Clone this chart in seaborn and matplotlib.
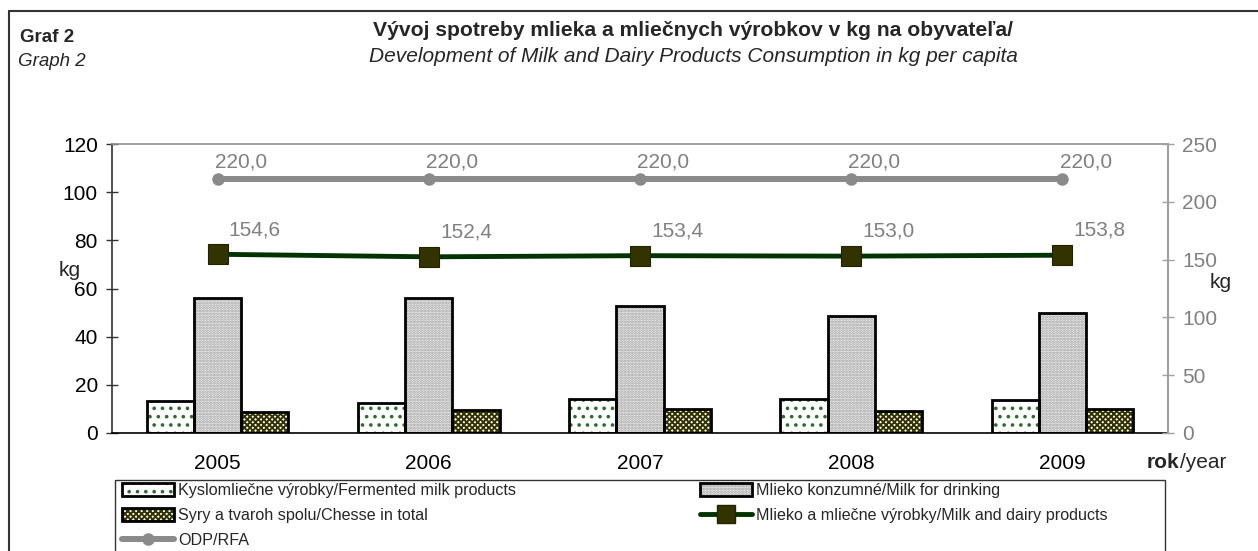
"""
Graf 2 - spotreba mlieka a mliečnych výrobkov na obyvateľa (2005-2009).
"""

import matplotlib
matplotlib.use("Agg")
import matplotlib.pyplot as plt
import matplotlib.patches as mpatches
from matplotlib.lines import Line2D
from matplotlib.legend_handler import HandlerTuple
import seaborn as sns
import numpy as np
import pandas as pd

# --- data -----------------------------------------------------------------
roky = ["2005", "2006", "2007", "2008", "2009"]
kyslomliecne = [13.2, 12.5, 14.1, 14.1, 13.7]
mlieko_konzumne = [55.9, 56.2, 52.7, 48.4, 49.8]
syry_tvaroh = [8.9, 9.5, 10.0, 9.3, 10.0]
mlieko_spolu = [154.6, 152.4, 153.4, 153.0, 153.8]
odp_rfa = [220.0, 220.0, 220.0, 220.0, 220.0]

lbl_kysl = "Kyslomliečne výrobky/Fermented milk products"
lbl_mlieko = "Mlieko konzumné/Milk for drinking"
lbl_syry = "Syry a tvaroh spolu/Chesse in total"
lbl_spolu = "Mlieko a mliečne výrobky/Milk and dairy products"
lbl_odp = "ODP/RFA"

df = pd.DataFrame({
    "rok": roky * 3,
    "kg": kyslomliecne + mlieko_konzumne + syry_tvaroh,
    "serie": [lbl_kysl] * 5 + [lbl_mlieko] * 5 + [lbl_syry] * 5,
})

FARBY = {
    "zelena_bod": "#2f6b2f",
    "siva_bod":   "#9a9a9a",
    "olivova":    "#333300",
    "ciara_zel":  "#003300",
    "siva_ciara": "#8a8a8a",
    "siva_text":  "#808080",
}
# (plocha, šrafovanie, farba šrafovania)
VZORY = {
    lbl_kysl:   ("white", "..", FARBY["zelena_bod"]),
    lbl_mlieko: ("#f6f6f6", "......", FARBY["siva_bod"]),
    lbl_syry:   ("white", "xxxxxx", FARBY["olivova"]),
}

sns.set_theme(style="white")
plt.rcParams["font.family"] = ["Liberation Sans", "DejaVu Sans"]
plt.rcParams["hatch.linewidth"] = 1.4

FS = 15

W, H = 1258, 551
fig = plt.figure(figsize=(W / 100, H / 100), dpi=100)
ax = fig.add_axes([112 / W, 1 - 433 / H, (1168 - 112) / W, (433 - 144) / H])

sns.barplot(data=df, x="rok", y="kg", hue="serie",
            hue_order=[lbl_kysl, lbl_mlieko, lbl_syry],
            palette=["white"] * 3, saturation=1, width=0.67,
            legend=False, ax=ax)

for cont, serie in zip(ax.containers, [lbl_kysl, lbl_mlieko, lbl_syry]):
    face, hatch, hcol = VZORY[serie]
    for bar in cont:
        bar.set_facecolor(face)
        bar.set_hatch(hatch)
        bar.set_edgecolor(hcol)
        bar.set_linewidth(0)
        ax.add_patch(mpatches.Rectangle(bar.get_xy(), bar.get_width(), bar.get_height(),
                                        fill=False, edgecolor="black", linewidth=2, zorder=3))

ax.set_xlim(-0.5, 4.5)
ax.set_ylim(0, 120)
ax.set_yticks(np.arange(0, 121, 20))
ax.set_xlabel("")
ax.set_ylabel("")
ax.set_xticks(np.arange(-0.5, 5, 1), minor=True)
ax.tick_params(axis="x", which="major", length=0, pad=15, labelsize=FS, labelcolor="black")
ax.tick_params(axis="x", which="minor", direction="inout", length=10, width=1, color="#333333")
ax.tick_params(axis="y", direction="inout", length=8.5, width=1, pad=6, labelsize=FS,
               color="#333333", labelcolor="black")
ax.spines["left"].set_color("#333333")
ax.spines["bottom"].set_color("black")
ax.spines["top"].set_visible(True)
ax.spines["top"].set_color("#909090")
ax.spines["right"].set_visible(False)
for s in ax.spines.values():
    s.set_linewidth(1.2)

# --- pravá os: čiary -----------------------------------------------------
ax2 = ax.twinx()
pozicie = np.arange(len(roky))
sns.lineplot(x=pozicie, y=odp_rfa, ax=ax2, color=FARBY["siva_ciara"], linewidth=4.3,
             marker="o", markersize=9, markeredgewidth=0, markerfacecolor=FARBY["siva_ciara"])
sns.lineplot(x=pozicie, y=mlieko_spolu, ax=ax2, color=FARBY["ciara_zel"], linewidth=3.5,
             marker="s", markersize=14, markeredgewidth=0.8, markeredgecolor="#222200",
             markerfacecolor=FARBY["olivova"])
ax2.set_ylim(0, 250)
ax2.set_yticks(np.arange(0, 251, 50))
ax2.set_xlim(-0.5, 4.5)
ax2.set_ylabel("")
ax2.tick_params(axis="y", direction="inout", length=8.5, width=1, pad=6, labelsize=FS,
                color="#a0a0a0", labelcolor=FARBY["siva_text"])
for side in ["left", "top", "bottom"]:
    ax2.spines[side].set_visible(False)
ax2.spines["right"].set_visible(True)
ax2.spines["right"].set_color("#a0a0a0")
ax2.spines["right"].set_linewidth(1.5)

for i, v in enumerate(odp_rfa):
    ax2.annotate(f"{v:.1f}".replace(".", ","), (i, v), xytext=(-2, 5),
                 textcoords="offset points", ha="left", va="bottom",
                 fontsize=FS, color=FARBY["siva_text"])
for i, v in enumerate(mlieko_spolu):
    ax2.annotate(f"{v:.1f}".replace(".", ","), (i, v), xytext=(8, 11),
                 textcoords="offset points", ha="left", va="bottom",
                 fontsize=FS, color=FARBY["siva_text"])

# --- texty ----------------------------------------------------------------
fig.text(693 / W, 1 - 30 / H, "Vývoj spotreby mlieka a mliečnych výrobkov v kg na obyvateľa/",
         ha="center", va="center", fontsize=15.2, fontweight="bold")
fig.text(693 / W, 1 - 57 / H, "Development of Milk and Dairy Products Consumption in kg per capita",
         ha="center", va="center", fontsize=15, style="italic")
fig.text(20 / W, 1 - 37 / H, "Graf 2", ha="left", va="center", fontsize=13.5, fontweight="bold")
fig.text(18 / W, 1 - 62 / H, "Graph 2", ha="left", va="center", fontsize=13.5, style="italic")
fig.text(70 / W, 1 - 270 / H, "kg", ha="center", va="center", fontsize=FS)
fig.text(1221 / W, 1 - 283 / H, "kg", ha="center", va="center", fontsize=FS)
t_rok = fig.text(1147 / W, 1 - 463 / H, "rok", ha="left", va="center",
                 fontsize=FS, fontweight="bold")
ax.annotate("/year", xy=(1, 0), xycoords=t_rok, ha="left", va="bottom", fontsize=FS)

# rám obrázka (pravá a spodná strana sú orezané)
fig.add_artist(Line2D([9 / W, 1], [1 - 11 / H, 1 - 11 / H], color="#333333", lw=1.5,
                      transform=fig.transFigure))
fig.add_artist(Line2D([9 / W, 9 / W], [0, 1 - 11 / H], color="#333333", lw=1.5,
                      transform=fig.transFigure))

# --- legenda --------------------------------------------------------------
def _plocha(serie):
    face, hatch, hcol = VZORY[serie]
    return (mpatches.Patch(facecolor=face, hatch=hatch, edgecolor=hcol, linewidth=0),
            mpatches.Patch(fill=False, edgecolor="black", linewidth=2))

handles = [
    _plocha(lbl_kysl),
    _plocha(lbl_syry),
    Line2D([], [], color=FARBY["siva_ciara"], lw=4.3, marker="o", markersize=9, markeredgewidth=0),
    _plocha(lbl_mlieko),
    Line2D([], [], color=FARBY["ciara_zel"], lw=3.5, marker="s", markersize=13,
           markerfacecolor=FARBY["olivova"], markeredgecolor="#222200"),
]
labels = [lbl_kysl, lbl_syry, lbl_odp, lbl_mlieko, lbl_spolu]

# rám legendy pokračuje až za spodný okraj obrázka
fig.add_artist(mpatches.Rectangle((115 / W, -0.05), (1165 - 115) / W, 1 - 480 / H + 0.05,
                                  transform=fig.transFigure, fill=False,
                                  edgecolor="#333333", linewidth=1.0))
leg = fig.legend(handles, labels, ncol=2, loc="upper left",
                 bbox_to_anchor=(122 / W, 1 - 483 / H),
                 handler_map={tuple: HandlerTuple(ndivide=1, pad=0)},
                 fontsize=11.6, frameon=False, borderpad=0, labelspacing=0.62,
                 handlelength=3.2, handleheight=0.8, handletextpad=0.3,
                 columnspacing=11.4, borderaxespad=0)

fig.savefig("out.png", dpi=100)
